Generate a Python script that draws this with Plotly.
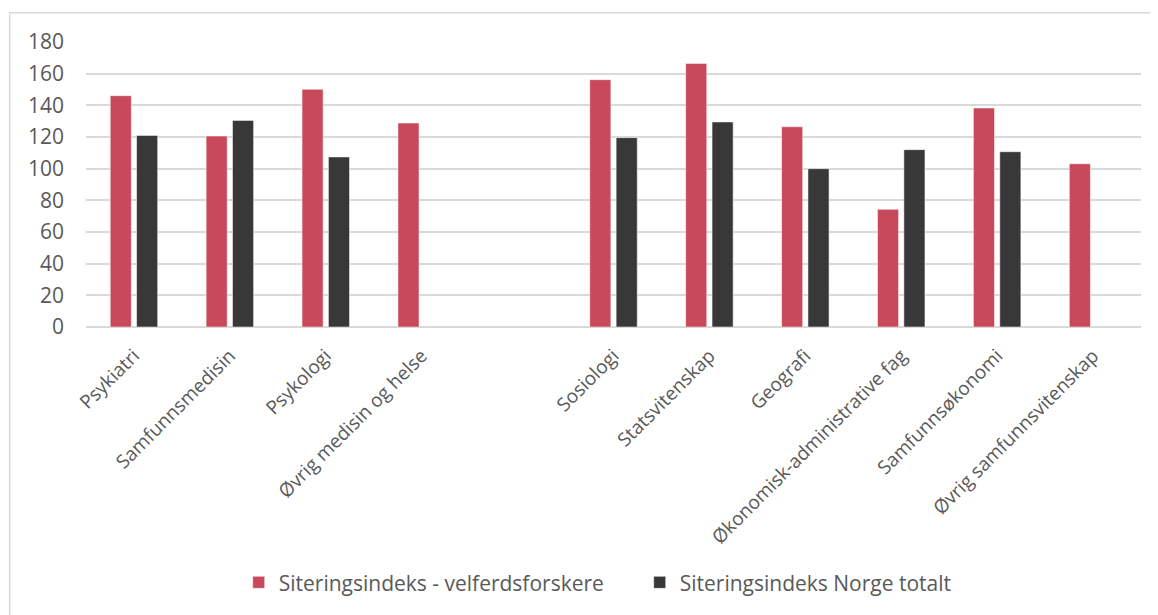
import plotly.graph_objects as go

categories = ["Psykiatri", "Samfunnsmedisin", "Psykologi", "Øvrig medisin og helse", " ",
              "Sosiologi", "Statsvitenskap", "Geografi", "Økonomisk-administrative fag",
              "Samfunnsøkonomi", "Øvrig samfunnsvitenskap"]
velferd = [146.1, 120.6, 150.1, 128.8, None, 156.2, 166.5, 126.5, 74.3, 138.3, 103.1]
norge = [121.0, 130.5, 107.4, None, None, 119.6, 129.5, 100.0, 112.0, 110.7, None]
series_names = ["Siteringsindeks - velferdsforskere", "Siteringsindeks Norge totalt"]
y_ticks = [0, 20, 40, 60, 80, 100, 120, 140, 160, 180]

FONT = "Open Sans"
TXT = "#595959"

fig = go.Figure()
fig.add_trace(go.Bar(x=categories, y=velferd, name=series_names[0],
                     marker=dict(color="#C8495A", line=dict(color="rgba(255,255,255,0.5)", width=1))))
fig.add_trace(go.Bar(x=categories, y=norge, name=series_names[1],
                     marker=dict(color="#383838", line=dict(color="rgba(255,255,255,0.5)", width=1))))

# page has an 8px body margin; work in page coordinates and offset
OFF = 8
L, R, T, B = 86.3, 1141.3, 42.3, 327.3
W, H = 1158 - OFF, 615 - OFF

fig.update_layout(
    width=W, height=H,
    margin=dict(l=L - OFF, r=W - (R - OFF), t=T - OFF, b=H - (B - OFF), autoexpand=False),
    paper_bgcolor="white", plot_bgcolor="white",
    barmode="group", bargap=0.45, bargroupgap=0.2,
    font=dict(family=FONT, color=TXT),
    showlegend=True,
    legend=dict(orientation="h", x=(239 - L) / (R - L), xanchor="left",
                y=(B - 583) / (B - T), yanchor="middle",
                font=dict(size=21, family=FONT, color=TXT),
                itemwidth=30, entrywidth=356, entrywidthmode="pixels", traceorder="normal"),
    xaxis=dict(type="category", tickangle=-45, tickfont=dict(size=19, family=FONT, color=TXT),
               showline=False, showgrid=False, ticks="", ticklabelstandoff=13, automargin=False),
    yaxis=dict(range=[0, 180], tickvals=y_ticks, tickfont=dict(size=21, family=FONT, color=TXT),
               showgrid=True, gridcolor="#D9D9D9", gridwidth=1.5,
               zeroline=True, zerolinecolor="#D9D9D9", zerolinewidth=1.5,
               showline=False, ticks="", ticklabelstandoff=21, automargin=False),
    shapes=[dict(type="rect", xref="paper", yref="paper",
                 x0=(10 - L) / (R - L), x1=(1170 - L) / (R - L),
                 y0=(B - 630) / (B - T), y1=(B - 13) / (B - T),
                 line=dict(color="#D9D9D9", width=1.5), fillcolor="rgba(0,0,0,0)", layer="below")],
)

fig.write_html("out.html")
